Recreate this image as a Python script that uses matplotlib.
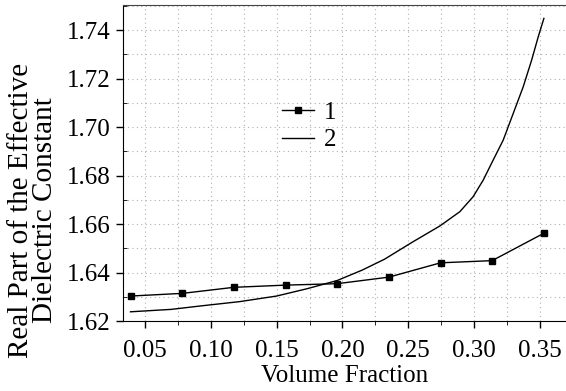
import matplotlib
matplotlib.use("Agg")
import matplotlib.pyplot as plt
from matplotlib.ticker import MultipleLocator, FormatStrFormatter

plt.rcParams['font.family'] = ['Liberation Serif', 'DejaVu Serif']
plt.rcParams['font.size'] = 18

# series 1 (squares)
vf1 = [0.0392, 0.0784, 0.1176, 0.1569, 0.1961, 0.2353, 0.2745, 0.3137, 0.3530]
eps1 = [1.6303, 1.6314, 1.6339, 1.6348, 1.6354, 1.6381, 1.6440, 1.6449, 1.6562]

# series 2 (plain line)
vf2 = [0.039, 0.070, 0.092, 0.122, 0.150, 0.173, 0.196, 0.215, 0.232,
       0.253, 0.274, 0.2892, 0.2993, 0.3069, 0.3145, 0.3221, 0.3297,
       0.3373, 0.3437, 0.3487, 0.3530]
eps2 = [1.6238, 1.6248, 1.6262, 1.6280, 1.6303, 1.6333, 1.6367, 1.6410, 1.6455,
        1.6525, 1.6592, 1.6651, 1.6713, 1.6781, 1.6864, 1.6946, 1.7056,
        1.7166, 1.7276, 1.7372, 1.7448]

xticks = [0.05, 0.10, 0.15, 0.20, 0.25, 0.30, 0.35]
yticks = [1.62, 1.64, 1.66, 1.68, 1.70, 1.72, 1.74]

fig = plt.figure(figsize=(5.66, 3.91), dpi=100)
ax = fig.add_axes([0.2173, 0.179, 0.7827, 0.8074])

ax.plot(vf1, eps1, color='black', lw=1.0, marker='s', ms=4.5, label='1')
ax.plot(vf2, eps2, color='black', lw=1.0, label='2')

ax.set_xlim(0.0333, 0.3698)
ax.set_ylim(1.62, 1.7502)
ax.set_xticks(xticks)
ax.set_yticks(yticks)
ax.xaxis.set_major_formatter(FormatStrFormatter('%.2f'))
ax.yaxis.set_major_formatter(FormatStrFormatter('%.2f'))
ax.xaxis.set_minor_locator(MultipleLocator(0.025))
ax.yaxis.set_minor_locator(MultipleLocator(0.01))

ax.grid(which='both', color='#b0b0b0', linestyle=(0, (1, 3)), lw=0.8)
ax.tick_params(which='major', direction='out', length=5, width=1)
ax.tick_params(axis='x', which='minor', direction='out', length=3)
ax.tick_params(axis='y', which='minor', direction='in', length=3)
ax.tick_params(axis='x', pad=9)
ax.tick_params(axis='y', pad=4)

ax.spines['right'].set_visible(False)
ax.spines['top'].set_color('#444444')

ax.set_xlabel('Volume Fraction', labelpad=2)
fig.text(33 / 566, 1 - 210 / 391, 'Real Part of the Effective\nDielectric Constant',
         rotation=90, ha='center', va='center', linespacing=0.9, fontsize=21)

ax.legend(loc='upper left', bbox_to_anchor=(0.33, 0.735), frameon=False,
          handlelength=1.3, handletextpad=0.4, labelspacing=0.2, borderpad=0)

fig.savefig('out.png', dpi=100)
